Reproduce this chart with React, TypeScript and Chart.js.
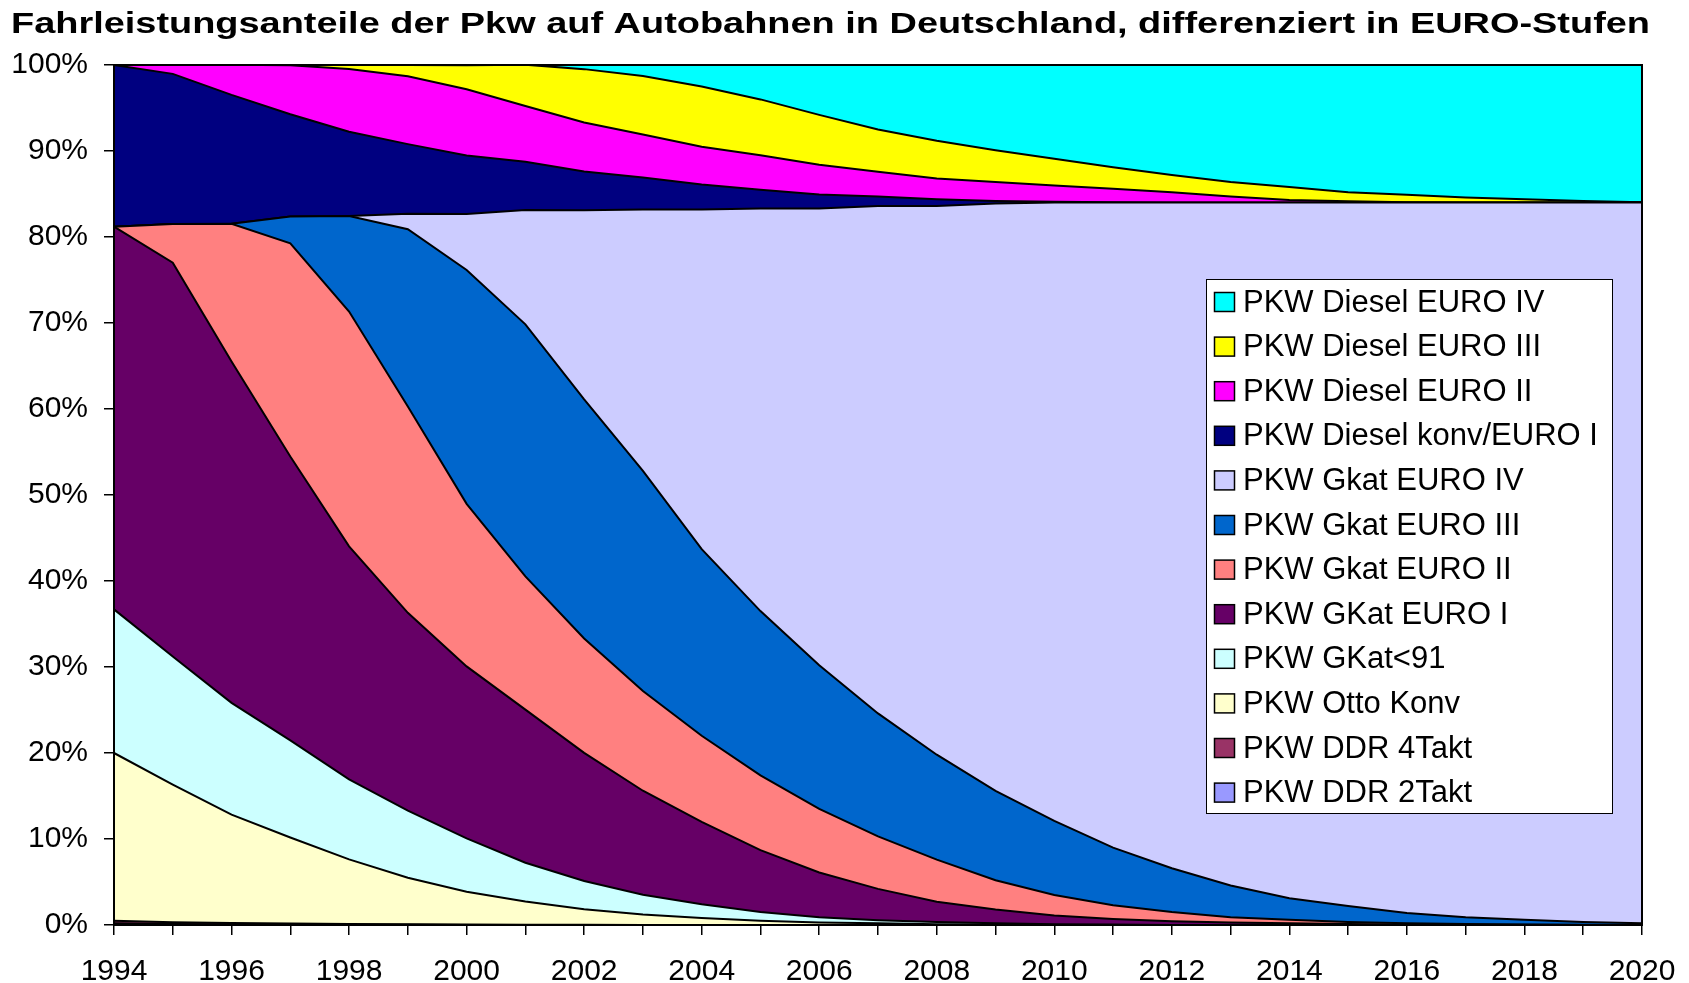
import React, { useEffect, useRef } from "react";
import { Chart, registerables } from "chart.js";

Chart.register(...registerables);

const years = [
  "1994", "1995", "1996", "1997", "1998", "1999", "2000", "2001", "2002", "2003",
  "2004", "2005", "2006", "2007", "2008", "2009", "2010", "2011", "2012", "2013",
  "2014", "2015", "2016", "2017", "2018", "2019", "2020",
];

const ddr2Takt = [0.2, 0.12, 0.08, 0.05, 0.03, 0.02, 0.01, 0, 0, 0, 0, 0, 0, 0, 0, 0, 0, 0, 0, 0, 0, 0, 0, 0, 0, 0, 0];
const ddr4Takt = [0.3, 0.2, 0.15, 0.12, 0.1, 0.08, 0.06, 0.04, 0.02, 0.01, 0, 0, 0, 0, 0, 0, 0, 0, 0, 0, 0, 0, 0, 0, 0, 0, 0];
const ottoKonv = [19.5, 16.0, 12.6, 10.0, 7.5, 5.4, 3.8, 2.7, 1.8, 1.2, 0.8, 0.5, 0.3, 0.2, 0.1, 0.05, 0, 0, 0, 0, 0, 0, 0, 0, 0, 0, 0];
const gkatVor91 = [16.7, 14.9, 13.0, 11.3, 9.3, 7.8, 6.2, 4.5, 3.3, 2.3, 1.6, 1.0, 0.6, 0.35, 0.25, 0.15, 0.1, 0.05, 0, 0, 0, 0, 0, 0, 0, 0, 0];
const gkatEuro1 = [44.5, 45.8, 39.7, 33.0, 27.1, 23.0, 20.0, 17.8, 14.9, 12.1, 9.6, 7.2, 5.2, 3.65, 2.35, 1.6, 1.0, 0.65, 0.45, 0.3, 0.2, 0.12, 0.07, 0.04, 0.02, 0.01, 0];
const gkatEuro2 = [0, 4.5, 16.0, 24.8, 27.3, 24.0, 18.9, 15.5, 13.3, 11.6, 10.0, 8.7, 7.4, 6.1, 4.9, 3.4, 2.4, 1.6, 1.05, 0.6, 0.4, 0.23, 0.13, 0.08, 0.04, 0.02, 0.01];
const gkatEuro3 = [0, 0, 0, 3.1, 11.1, 20.6, 27.2, 29.3, 27.8, 25.6, 21.7, 19.1, 16.7, 14.3, 12.2, 10.4, 8.6, 6.7, 5.1, 3.7, 2.5, 1.85, 1.2, 0.78, 0.54, 0.32, 0.19];
const gkatEuro4 = [0, 0, 0, 0, 0, 1.8, 6.5, 13.3, 22.0, 30.4, 39.5, 46.8, 53.1, 59.0, 63.8, 68.3, 71.9, 75.0, 77.4, 79.4, 80.9, 81.8, 82.6, 83.1, 83.4, 83.65, 83.8];
const dieselKonv = [18.8, 17.45, 15.0, 11.9, 9.8, 8.1, 6.8, 5.6, 4.5, 3.7, 2.9, 2.2, 1.65, 1.1, 0.8, 0.3, 0.1, 0.05, 0.02, 0, 0, 0, 0, 0, 0, 0, 0];
const dieselEuro2 = [0, 1.05, 3.5, 5.7, 7.3, 7.9, 7.7, 6.5, 5.7, 5.0, 4.4, 4.0, 3.45, 2.9, 2.4, 2.2, 1.9, 1.55, 1.18, 0.7, 0.3, 0.15, 0.05, 0, 0, 0, 0];
const dieselEuro3 = [0, 0, 0, 0, 0.5, 1.3, 2.8, 4.8, 6.2, 6.8, 7.0, 6.5, 5.8, 4.9, 4.4, 3.7, 3.1, 2.5, 2.0, 1.7, 1.5, 1.05, 0.85, 0.6, 0.4, 0.2, 0.05];
const dieselEuro4 = [0, 0, 0, 0, 0, 0, 0, 0, 0.5, 1.3, 2.5, 4.0, 5.8, 7.5, 8.8, 9.9, 10.9, 11.9, 12.8, 13.6, 14.2, 14.8, 15.1, 15.4, 15.6, 15.8, 15.95];

const seriesLabels = [
  "PKW DDR 2Takt",
  "PKW DDR 4Takt",
  "PKW Otto Konv",
  "PKW GKat<91",
  "PKW GKat EURO I",
  "PKW Gkat EURO II",
  "PKW Gkat EURO III",
  "PKW Gkat EURO IV",
  "PKW Diesel konv/EURO I",
  "PKW Diesel EURO II",
  "PKW Diesel EURO III",
  "PKW Diesel EURO IV",
];
const seriesData = [
  ddr2Takt, ddr4Takt, ottoKonv, gkatVor91, gkatEuro1, gkatEuro2,
  gkatEuro3, gkatEuro4, dieselKonv, dieselEuro2, dieselEuro3, dieselEuro4,
];
const seriesColors = [
  "#9999FF", "#993366", "#FFFFCC", "#CCFFFF", "#660066", "#FF8080",
  "#0066CC", "#CCCCFF", "#000080", "#FF00FF", "#FFFF00", "#00FFFF",
];

const yTicks = [0, 10, 20, 30, 40, 50, 60, 70, 80, 90, 100];

const titleText = "Fahrleistungsanteile der Pkw auf Autobahnen in Deutschland, differenziert in EURO-Stufen";

const FONT = "'Liberation Sans', Arial, sans-serif";

const frameAndLegend = {
  id: "frameAndLegend",
  afterDraw(chart: any) {
    const ctx = chart.ctx;
    const a = chart.chartArea;
    ctx.save();
    ctx.strokeStyle = "#000";
    ctx.lineWidth = 2;
    ctx.strokeRect(a.left, a.top, a.right - a.left, a.bottom - a.top);

    // title (slightly wide bold face, as in the original)
    ctx.save();
    ctx.font = `bold 29px ${FONT}`;
    ctx.fillStyle = "#000";
    ctx.textBaseline = "middle";
    ctx.textAlign = "left";
    const w = ctx.measureText(titleText).width;
    ctx.translate(11, 25);
    ctx.scale(1639 / w, 1);
    ctx.fillText(titleText, 0, 0);
    ctx.restore();

    // legend box
    const bx = 1206.5, by = 279.5, bw = 406, bh = 534;
    ctx.fillStyle = "#fff";
    ctx.fillRect(bx, by, bw, bh);
    ctx.lineWidth = 1;
    ctx.strokeStyle = "#000";
    ctx.strokeRect(bx, by, bw, bh);
    const ds = chart.data.datasets;
    const rowH = 44.6;
    const firstCenter = 302;
    ctx.font = `31px ${FONT}`;
    ctx.textBaseline = "middle";
    ctx.textAlign = "left";
    for (let i = 0; i < ds.length; i++) {
      const d = ds[ds.length - 1 - i];
      const cy = firstCenter + i * rowH;
      ctx.fillStyle = d.backgroundColor;
      ctx.fillRect(1214.5, cy - 9.5, 20, 19);
      ctx.lineWidth = 1.5;
      ctx.strokeStyle = "#000";
      ctx.strokeRect(1214.5, cy - 9.5, 20, 19);
      ctx.fillStyle = "#000";
      ctx.fillText(d.label, 1243, cy + 1);
    }
    ctx.restore();
  },
};

export default function App() {
  const ref = useRef<HTMLCanvasElement | null>(null);

  useEffect(() => {
    document.body.style.margin = "0";
    const canvas = ref.current;
    if (!canvas) return;
    const chart = new Chart(canvas, {
      type: "line",
      data: {
        labels: years,
        datasets: seriesData.map((data, i) => ({
          label: seriesLabels[i],
          data,
          backgroundColor: seriesColors[i],
          borderColor: "#000",
          borderWidth: 2,
          pointRadius: 0,
          tension: 0,
          fill: i === 0 ? "origin" : "-1",
        })),
      },
      options: {
        responsive: false,
        animation: false,
        layout: { padding: { left: 0, right: 47, top: 65, bottom: 0 } },
        plugins: {
          legend: { display: false },
          tooltip: { enabled: false },
          title: { display: false },
        },
        scales: {
          x: {
            type: "category",
            offset: false,
            grid: {
              display: true,
              drawOnChartArea: false,
              drawTicks: true,
              tickLength: 10,
              color: "#000",
              lineWidth: 1.5,
            },
            border: { display: true, color: "#000", width: 2 },
            ticks: {
              autoSkip: false,
              maxRotation: 0,
              padding: 19,
              color: "#000",
              font: { family: FONT, size: 30 },
              callback: (_v: any, i: number) => (i % 2 === 0 ? years[i] : ""),
            },
            afterFit: (s: any) => {
              s.height = 58;
              s.paddingLeft = 36;
              s.paddingRight = 36;
            },
          },
          y: {
            stacked: true,
            min: 0,
            max: 100,
            afterBuildTicks: (s: any) => {
              s.ticks = yTicks.map((v) => ({ value: v }));
            },
            grid: {
              display: true,
              drawOnChartArea: false,
              drawTicks: true,
              tickLength: 10,
              color: "#000",
              lineWidth: 1.5,
            },
            border: { display: true, color: "#000", width: 2 },
            ticks: {
              padding: 16,
              color: "#000",
              font: { family: FONT, size: 30 },
              callback: (v: any) => `${v}%`,
            },
            afterFit: (s: any) => {
              s.width = 114;
            },
          },
        },
      },
      plugins: [frameAndLegend],
    });
    return () => chart.destroy();
  }, []);

  return (
    <div style={{ width: 1689, height: 983, background: "#fff" }}>
      <canvas ref={ref} width={1689} height={983} style={{ display: "block" }} />
    </div>
  );
}
